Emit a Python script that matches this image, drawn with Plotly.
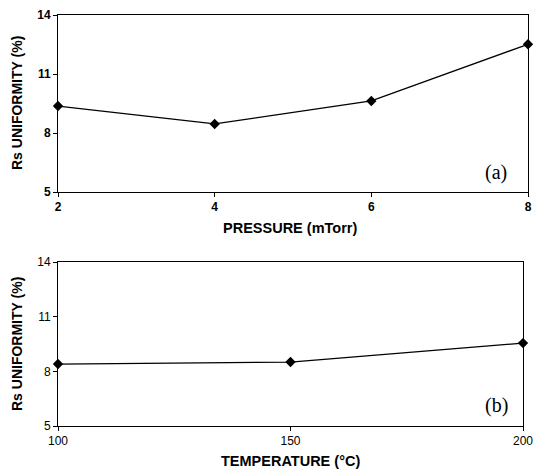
import plotly.graph_objects as go

pressure = [2, 4, 6, 8]
uniformity_pressure = [9.37, 8.46, 9.63, 12.51]

temperature = [100, 150, 200]
uniformity_temperature = [8.4, 8.51, 9.55]

y_ticks = [5, 8, 11, 14]
p_ticks = [2, 4, 6, 8]
t_ticks = [100, 150, 200]

W, H = 549, 471
OFF = 8  # page body margin in the browser
FONT = "Arial, Liberation Sans, sans-serif"

fig = go.Figure()
fig.add_trace(go.Scatter(x=pressure, y=uniformity_pressure, mode="lines+markers",
                         line=dict(color="black", width=1.3),
                         marker=dict(symbol="diamond", size=8, color="black"),
                         xaxis="x", yaxis="y", showlegend=False, cliponaxis=False))
fig.add_trace(go.Scatter(x=temperature, y=uniformity_temperature, mode="lines+markers",
                         line=dict(color="black", width=1.3),
                         marker=dict(symbol="diamond", size=8, color="black"),
                         xaxis="x2", yaxis="y2", showlegend=False, cliponaxis=False))

def px_x(v):
    return (v - OFF) / W

def px_y(v):
    return 1 - (v - OFF) / H

axis_common = dict(showline=True, linecolor="black", linewidth=1, mirror=True,
                   ticks="outside", ticklen=4, tickcolor="black", showgrid=False,
                   zeroline=False, automargin=False)

fig.update_layout(
    width=W, height=H,
    margin=dict(l=0, r=0, t=0, b=0, autoexpand=False),
    paper_bgcolor="white", plot_bgcolor="white",
    xaxis=dict(domain=[px_x(58), px_x(528)], range=[2, 8], tickvals=p_ticks,
               anchor="y", tickfont=dict(family=FONT, size=12, color="black", weight="bold"),
               **axis_common),
    yaxis=dict(domain=[px_y(192), px_y(15)], range=[5, 14], tickvals=y_ticks,
               anchor="x", tickfont=dict(family=FONT, size=12, color="black", weight="bold"),
               **axis_common),
    xaxis2=dict(domain=[px_x(58), px_x(523)], range=[100, 200], tickvals=t_ticks,
                anchor="y2", tickfont=dict(family=FONT, size=12, color="black"),
                **axis_common),
    yaxis2=dict(domain=[px_y(426), px_y(262)], range=[5, 14], tickvals=y_ticks,
                anchor="x2", tickfont=dict(family=FONT, size=12, color="black"),
                **axis_common),
)

ytitle_font = dict(family=FONT, size=14, color="black", weight="bold")
xtitle_font = dict(family=FONT, size=14.5, color="black", weight="bold")
annotations = [
    dict(text="Rs UNIFORMITY (%)", x=px_x(17), y=px_y(103), textangle=-90, font=ytitle_font),
    dict(text="Rs UNIFORMITY (%)", x=px_x(17), y=px_y(344), textangle=-90, font=ytitle_font),
    dict(text="PRESSURE (mTorr)", x=px_x(290), y=px_y(228), font=xtitle_font),
    dict(text="TEMPERATURE (°C)", x=px_x(290), y=px_y(461), font=xtitle_font),
]
for a in annotations:
    fig.add_annotation(xref="paper", yref="paper", showarrow=False,
                       xanchor="center", yanchor="middle", **a)

for lbl, yy in [("(a)", 173), ("(b)", 405)]:
    fig.add_annotation(xref="paper", yref="paper", showarrow=False, text=lbl,
                       x=px_x(496), y=px_y(yy), xanchor="center", yanchor="middle",
                       font=dict(family="Times New Roman, Liberation Serif, serif", size=20, color="black"))

fig.write_html("out.html")
